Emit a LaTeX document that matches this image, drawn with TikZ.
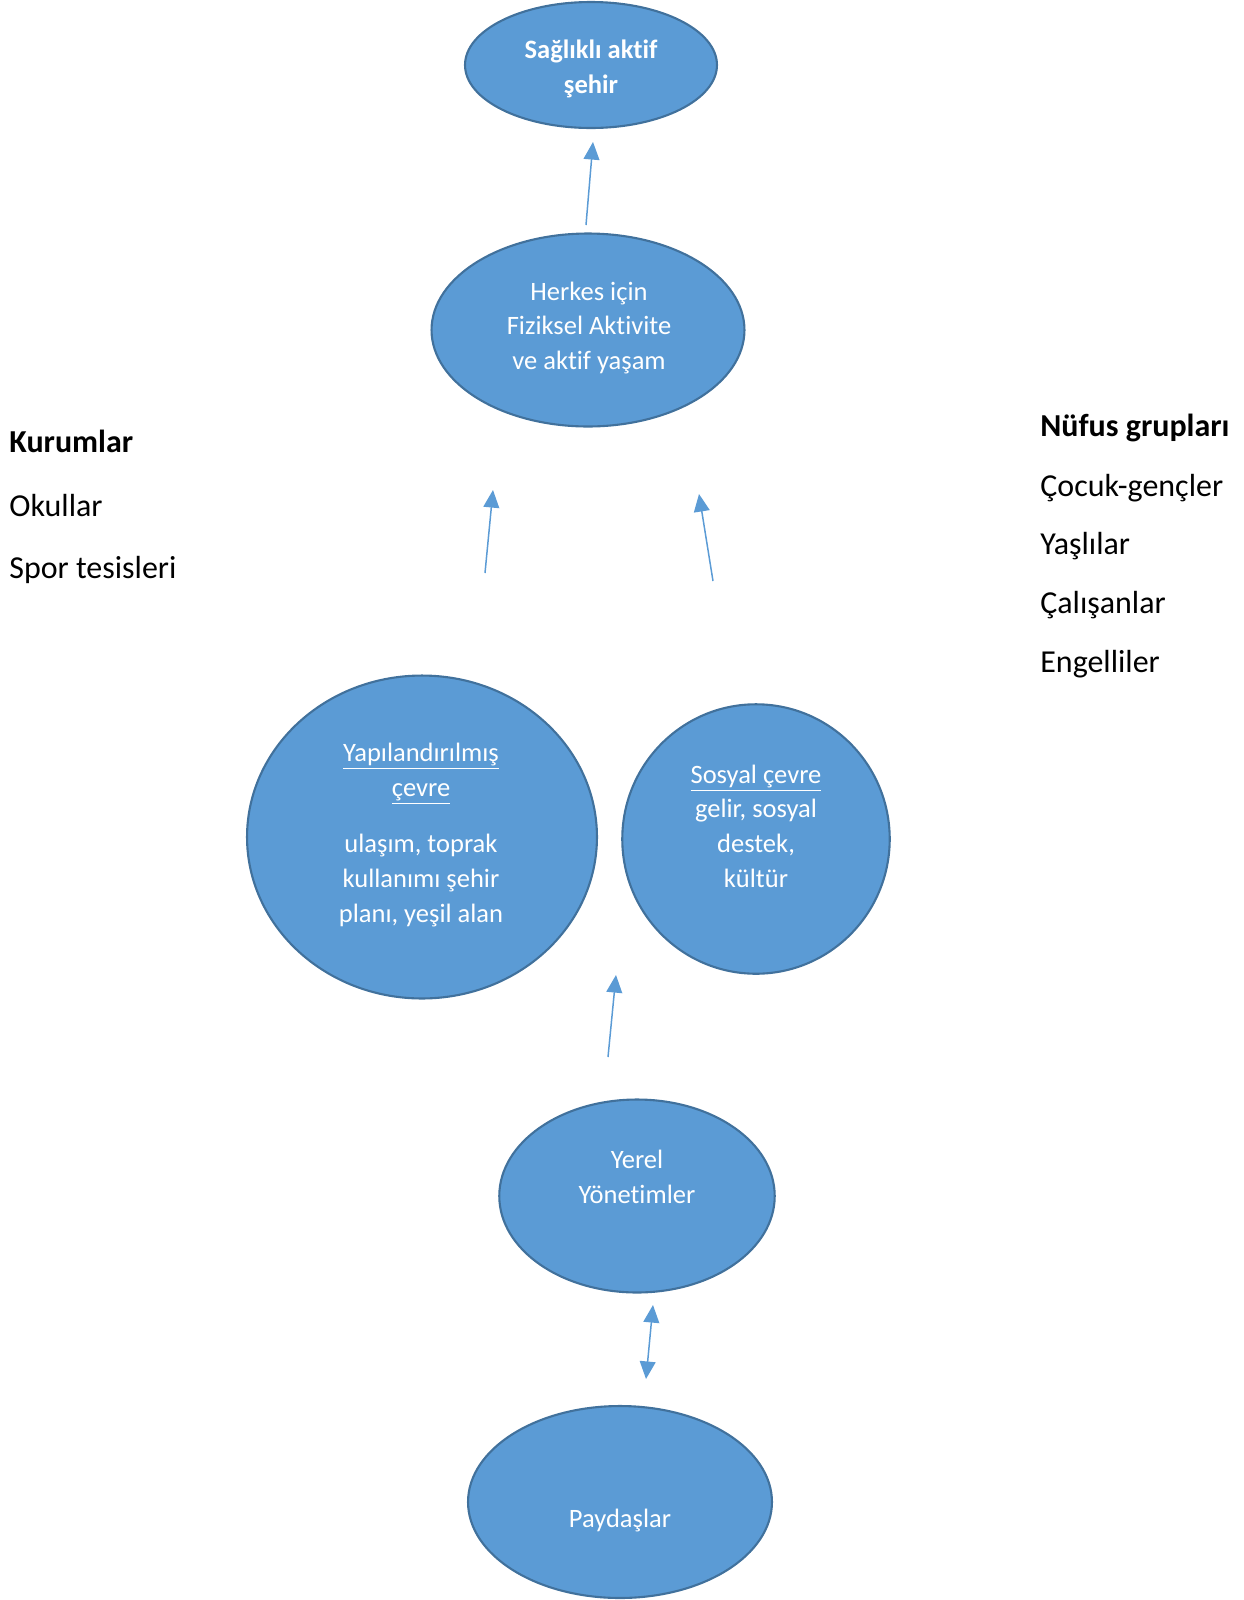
\documentclass[tikz,border=0pt]{standalone}
\usepackage{fontspec}
\setmainfont[RawFeature={-liga;-clig;-calt;-dlig}]{Carlito}
\usetikzlibrary{arrows.meta,shapes.geometric}
\definecolor{bubblefill}{HTML}{5B9BD5}
\definecolor{bubbleedge}{HTML}{41719C}

\begin{document}
\begin{tikzpicture}[x=0.02cm, y=-0.02cm,
    bubble/.style={ellipse, fill=bubblefill, draw=bubbleedge, line width=1.2pt, inner sep=0pt},
    btxt/.style={text=white, align=center, inner sep=0pt, font=\fontsize{15.1}{19.75}\selectfont},
    side/.style={anchor=west, inner sep=0pt, font=\fontsize{18.2}{22}\selectfont},
    head/.tip={Triangle[length=10pt,width=9pt]},
    flow/.style={draw=bubblefill, line width=0.85pt, -head},
  ]
  \useasboundingbox (0,0) rectangle (1244,1600);

  % ---- bubbles, top to bottom
  \node[bubble, minimum width=5.04cm, minimum height=2.52cm] (sehir) at (591,65) {};
  \node[bubble, minimum width=6.26cm, minimum height=3.86cm] (herkes) at (588,330) {};
  \node[bubble, minimum width=7.00cm, minimum height=6.46cm] (yapi) at (422,837) {};
  \node[bubble, minimum width=5.35cm, minimum height=5.39cm] (sosyal) at (756,839) {};
  \node[bubble, minimum width=5.51cm, minimum height=3.86cm] (yerel) at (637,1196) {};
  \node[bubble, minimum width=6.08cm, minimum height=3.84cm] (paydas) at (620,1502) {};

  % ---- texts in the bubbles
  \node[btxt, font=\fontsize{15.1}{19.75}\selectfont\bfseries] (sehir-t) at (591,69) {Sağlıklı aktif\\şehir};
  \node[btxt] (herkes-t) at (589,328) {Herkes için\\Fiziksel Aktivite\\ve aktif yaşam};
  \node[btxt] (yapi-t) at (421,835)
    {\underline{Yapılandırılmış}\\\underline{çevre}\\[12.5pt]ulaşım, toprak\\kullanımı şehir\\planı, yeşil alan};
  \node[btxt] (sosyal-t) at (756,826) {\underline{Sosyal çevre}\\gelir, sosyal\\destek,\\kültür};
  \node[btxt] (yerel-t) at (637,1177) {Yerel\\Yönetimler};
  \node[btxt] (paydas-t) at (620,1520) {Paydaşlar};

  % ---- side lists
  \node[side, font=\fontsize{18.2}{22}\selectfont\bfseries] (kurum) at (9,441) {Kurumlar};
  \node[side] (okul) at (9,506) {Okullar};
  \node[side] (spor) at (9,570) {Spor tesisleri};
  \node[side, font=\fontsize{18.2}{22}\selectfont\bfseries] (nufus) at (1040,428) {Nüfus grupları};
  \node[side] (cocuk) at (1040,488) {Çocuk-gençler};
  \node[side] (yasli) at (1040,546) {Yaşlılar};
  \node[side] (calis) at (1040,605) {Çalışanlar};
  \node[side] (engel) at (1040,664) {Engelliler};

  % ---- arrows
  \coordinate (a1s) at (586,225);  \coordinate (a1e) at (593,142);
  \coordinate (a2s) at (485,573);  \coordinate (a2e) at (493,490);
  \coordinate (a3s) at (713,581);  \coordinate (a3e) at (699,494);
  \coordinate (a4s) at (608,1057); \coordinate (a4e) at (616,975);
  \coordinate (a5s) at (646,1379); \coordinate (a5e) at (653,1305);
  \draw[flow] (a1s) -- (a1e);
  \draw[flow] (a2s) -- (a2e);
  \draw[flow] (a3s) -- (a3e);
  \draw[flow] (a4s) -- (a4e);
  \draw[flow, head-head] (a5s) -- (a5e);
\end{tikzpicture}
\end{document}
